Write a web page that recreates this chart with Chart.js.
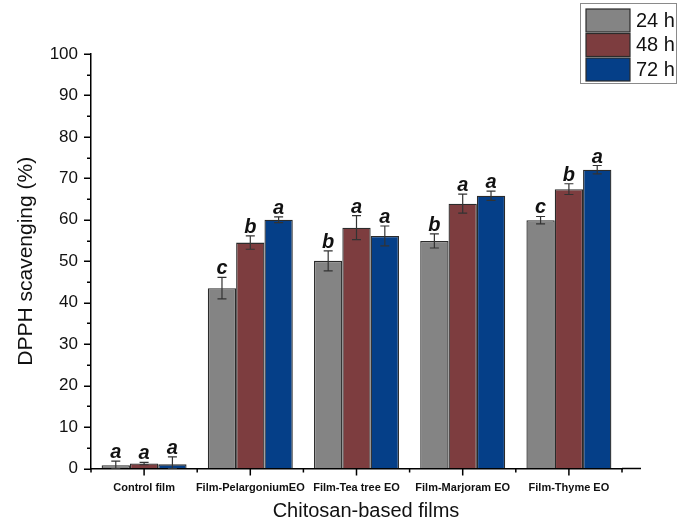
<!DOCTYPE html>
<html>
<head>
<meta charset="utf-8">
<script src="https://cdn.jsdelivr.net/npm/chart.js@4.4.1/dist/chart.umd.min.js"></script>
<style>
html,body{margin:0;padding:0;background:#fff;}
#wrap{width:685px;height:525px;position:relative;}
</style>
</head>
<body>
<div id="wrap"><canvas id="c" width="685" height="525"></canvas></div>
<script>
const categories = ['Control film', 'Film-PelargoniumEO', 'Film-Tea tree EO', 'Film-Marjoram EO', 'Film-Thyme EO'];
const seriesNames = ['24 h', '48 h', '72 h'];
const values24 = [0.8, 43.5, 50.1, 54.9, 59.9];
const values48 = [1.2, 54.5, 58.1, 63.9, 67.4];
const values72 = [1.0, 60.0, 56.1, 65.8, 72.1];
const err24 = [1.0, 2.6, 2.4, 1.7, 0.9];
const err48 = [0.3, 1.6, 2.9, 2.3, 1.3];
const err72 = [1.8, 0.7, 2.4, 1.1, 1.0];
const letters24 = ['a', 'c', 'b', 'b', 'c'];
const letters48 = ['a', 'b', 'a', 'a', 'b'];
const letters72 = ['a', 'a', 'a', 'a', 'a'];
const yMin = 0, yMax = 100, yStep = 10;
const xTitle = 'Chitosan-based films';
const yTitle = 'DPPH scavenging (%)';

const colors = ['#848484', '#7d3d3f', '#053f88'];
const errs = [err24, err48, err72];
const letters = [letters24, letters48, letters72];
const FONT = '"Liberation Sans", Arial, sans-serif';

const extras = {
  id: 'extras',
  afterDatasetsDraw(chart) {
    const ctx = chart.ctx;
    const y = chart.scales.y;
    chart.data.datasets.forEach((ds, di) => {
      const meta = chart.getDatasetMeta(di);
      meta.data.forEach((bar, i) => {
        const v = ds.data[i], e = errs[di][i];
        const yt = y.getPixelForValue(v + e);
        const yb = y.getPixelForValue(Math.max(v - e, 0));
        ctx.save();
        ctx.strokeStyle = '#333';
        ctx.lineWidth = 1.2;
        ctx.beginPath();
        ctx.moveTo(bar.x, yt); ctx.lineTo(bar.x, yb);
        ctx.moveTo(bar.x - 4.5, yt); ctx.lineTo(bar.x + 4.5, yt);
        ctx.moveTo(bar.x - 4.5, yb); ctx.lineTo(bar.x + 4.5, yb);
        ctx.stroke();
        ctx.fillStyle = '#111';
        ctx.font = 'italic bold 20px ' + FONT;
        ctx.textAlign = 'center';
        ctx.textBaseline = 'alphabetic';
        ctx.fillText(letters[di][i], bar.x, yt - 3);
        ctx.restore();
      });
    });
  },
  afterDraw(chart) {
    const ctx = chart.ctx;
    const ca = chart.chartArea;
    const x = chart.scales.x, y = chart.scales.y;
    ctx.save();
    ctx.strokeStyle = '#000';
    ctx.lineWidth = 1.5;
    ctx.beginPath();
    // y ticks
    for (let v = yMin; v <= yMax; v += yStep / 2) {
      const py = Math.round(y.getPixelForValue(v)) + 0.25;
      const len = (v % yStep === 0) ? 7 : 4;
      ctx.moveTo(ca.left - len, py); ctx.lineTo(ca.left, py);
    }
    // x ticks
    const n = categories.length;
    const half = (x.getPixelForValue(1) - x.getPixelForValue(0)) / 2;
    for (let i = 0; i < n; i++) {
      const px = x.getPixelForValue(i);
      ctx.moveTo(px, ca.bottom); ctx.lineTo(px, ca.bottom + 7);
    }
    for (let i = 0; i <= n; i++) {
      const px = x.getPixelForValue(0) - half + i * 2 * half;
      ctx.moveTo(px, ca.bottom); ctx.lineTo(px, ca.bottom + 4);
    }
    // extended x axis line
    ctx.moveTo(ca.right, ca.bottom); ctx.lineTo(ca.right + 19, ca.bottom);
    ctx.stroke();

    // axis titles
    ctx.fillStyle = '#111';
    ctx.font = '20px ' + FONT;
    ctx.textAlign = 'center';
    ctx.textBaseline = 'middle';
    ctx.fillText(xTitle, (ca.left + ca.right + 19) / 2, 511);
    ctx.save();
    ctx.translate(26, (ca.top + ca.bottom) / 2);
    ctx.rotate(-Math.PI / 2);
    ctx.font = '21px ' + FONT;
    ctx.fillText(yTitle, 0, 0);
    ctx.restore();

    // legend
    ctx.strokeStyle = '#8a8a8a';
    ctx.lineWidth = 1;
    ctx.strokeRect(580.5, 3.5, 96, 80);
    const rows = [9, 33.5, 58];
    seriesNames.forEach((name, i) => {
      ctx.fillStyle = colors[i];
      ctx.fillRect(586, rows[i], 44, 23);
      ctx.strokeStyle = '#2b2b2b';
      ctx.lineWidth = 1.2;
      ctx.strokeRect(586, rows[i], 44, 23);
      ctx.fillStyle = '#111';
      ctx.font = '20px ' + FONT;
      ctx.textAlign = 'left';
      ctx.textBaseline = 'middle';
      ctx.fillText(name, 636, rows[i] + 12);
    });
    ctx.restore();
  }
};

new Chart(document.getElementById('c'), {
  type: 'bar',
  data: {
    labels: categories,
    datasets: [
      { label: seriesNames[0], data: values24, backgroundColor: colors[0] },
      { label: seriesNames[1], data: values48, backgroundColor: colors[1] },
      { label: seriesNames[2], data: values72, backgroundColor: colors[2] }
    ].map(d => Object.assign(d, { borderColor: '#2b2b2b', borderWidth: 1.3, barPercentage: 1, categoryPercentage: 0.8 }))
  },
  options: {
    responsive: false,
    animation: false,
    devicePixelRatio: 1,
    layout: { padding: { top: 54, right: 63, bottom: 0, left: 0 } },
    plugins: { legend: { display: false }, tooltip: { enabled: false } },
    scales: {
      x: {
        offset: true,
        grid: { display: true, drawOnChartArea: false, color: 'rgba(0,0,0,0)', tickLength: 7 },
        border: { display: true, color: '#000', width: 1.5 },
        ticks: { font: { family: FONT, size: 11, weight: 'bold' }, color: '#111', padding: 6, maxRotation: 0, autoSkip: false },
        afterFit: s => { s.height = 56.5; }
      },
      y: {
        min: yMin, max: yMax,
        grid: { display: true, drawOnChartArea: false, color: 'rgba(0,0,0,0)', tickLength: 7 },
        border: { display: true, color: '#000', width: 1.5 },
        ticks: { stepSize: yStep, font: { family: FONT, size: 17 }, color: '#111', padding: 6 },
        afterFit: s => { s.width = 91; }
      }
    }
  },
  plugins: [extras]
});
</script>
</body>
</html>
